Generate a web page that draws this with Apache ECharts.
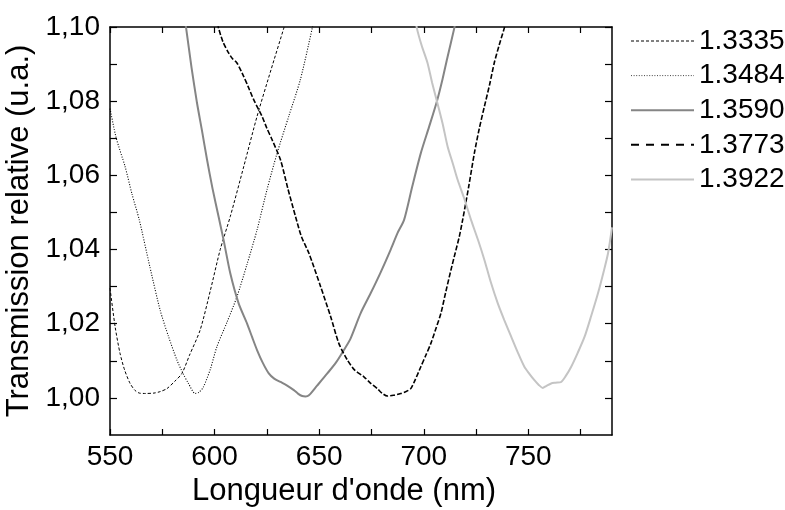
<!DOCTYPE html>
<html>
<head>
<meta charset="utf-8">
<script src="https://cdn.jsdelivr.net/npm/echarts@6/dist/echarts.min.js"></script>
<style>
html,body{margin:0;padding:0;background:#fff;}
#chart{width:785px;height:510px;}
</style>
</head>
<body>
<div id="chart"></div>
<script>
// ---- data (wavelength nm, relative transmission) ----
const seriesNames = ['1.3335', '1.3484', '1.3590', '1.3773', '1.3922'];

const s1335 = [[550,1.0296],[552.5,1.019],[554.8,1.012],[557,1.0075],[559.6,1.0039],[562,1.0020],[564,1.0013],[567,1.0012],[571,1.0013],[574,1.0017],[577.2,1.0025],[581,1.0045],[584.4,1.0066],[588,1.0115],[593.1,1.0183],[598,1.0290],[602.7,1.040],[607.5,1.0489],[614,1.0625],[620.3,1.0759],[627,1.0885],[633.1,1.0997],[634,1.1015]];

const s1484 = [[550,1.078],[553,1.070],[557.2,1.0624],[560.5,1.055],[564,1.048],[569,1.0355],[574,1.0236],[578,1.0165],[582,1.0102],[585,1.0065],[587.5,1.0039],[590.7,1.0012],[592.5,1.0015],[594.7,1.003],[598,1.0078],[601.1,1.0138],[606,1.0205],[610.7,1.0273],[615.5,1.036],[620.3,1.0453],[625,1.056],[629.9,1.066],[635.5,1.076],[641,1.0858],[646.7,1.0997],[647.5,1.102]];

const s1590 = [[585.8,1.102],[586.4,1.0997],[589,1.089],[591.6,1.0795],[594,1.072],[596.4,1.0642],[599,1.0565],[601.9,1.0489],[604.3,1.0426],[607.5,1.0336],[611.5,1.0255],[615.5,1.0201],[618,1.0163],[620.3,1.0129],[623,1.0095],[625.9,1.0066],[628.5,1.0052],[631.5,1.0043],[634.5,1.0034],[637.9,1.0021],[640,1.0011],[641.9,1.0005],[643.5,1.0004],[645.1,1.0007],[649,1.0033],[653.9,1.0066],[658,1.0095],[661.8,1.0129],[665,1.016],[669.8,1.0228],[674.6,1.0282],[679.5,1.034],[684.2,1.040],[687.5,1.0445],[690.6,1.048],[694.5,1.057],[698.6,1.066],[702.5,1.073],[706.3,1.080],[709,1.086],[711.4,1.092],[714.6,1.0997],[715,1.101]];

const s1773 = [[601.5,1.101],[601.9,1.0997],[604,1.096],[606.7,1.093],[608.5,1.0915],[610.7,1.0903],[613.9,1.0867],[616,1.084],[618.7,1.0804],[622.7,1.0759],[625,1.0727],[627.5,1.0696],[631.5,1.0642],[635,1.0565],[638.7,1.0489],[641.5,1.0435],[645.1,1.039],[650.7,1.030],[655.5,1.0219],[659.4,1.0147],[663.5,1.0102],[667,1.0075],[671.4,1.0057],[674.5,1.004],[677.8,1.0025],[680,1.0013],[682.6,1.0005],[685.5,1.0007],[689,1.0012],[691.5,1.0017],[693.8,1.0025],[696,1.0050],[698.6,1.0084],[701,1.0115],[703.4,1.0147],[706,1.019],[708.2,1.0228],[710.5,1.0285],[713,1.0345],[715,1.039],[717,1.0435],[718.6,1.048],[721.5,1.057],[724.2,1.066],[726.5,1.0725],[729,1.0786],[731.5,1.0845],[733.7,1.0903],[736,1.095],[738.5,1.0997],[739,1.101]];

const s1922 = [[696.2,1.102],[696.7,1.0997],[699,1.095],[701.8,1.0903],[704,1.085],[706.3,1.080],[709,1.074],[711.4,1.0678],[714,1.063],[716.2,1.0588],[719.5,1.0535],[722.6,1.048],[726,1.0425],[729,1.0372],[732,1.0313],[735.4,1.0255],[738.5,1.021],[741.8,1.0165],[745,1.0122],[748.1,1.0084],[750.5,1.0065],[752.9,1.0048],[755,1.0035],[756.9,1.0027],[758.5,1.0032],[760.9,1.0039],[763,1.0041],[765.7,1.0043],[768,1.006],[770.5,1.0084],[773.5,1.012],[776.9,1.0165],[780,1.022],[783.3,1.0282],[786,1.034],[788.1,1.039],[790,1.046]];

// ---- axis ticks / labels ----
const xLabels = [550, 600, 650, 700, 750];
const xTicks = [550, 575, 600, 625, 650, 675, 700, 725, 750, 775];
const yLabels = [1.00, 1.02, 1.04, 1.06, 1.08, 1.10];
const yTicks = [1.00, 1.01, 1.02, 1.03, 1.04, 1.05, 1.06, 1.07, 1.08, 1.09, 1.10];

const FONT = '"Liberation Sans", Arial, sans-serif';
const seriesData = [s1335, s1484, s1590, s1773, s1922];
const lineStyles = [
  {color: '#000', width: 1, type: [3, 2]},
  {color: '#000', width: 1.1, type: [1, 1.6]},
  {color: '#858585', width: 2, type: 'solid'},
  {color: '#000', width: 1.6, type: [5, 2]},
  {color: '#c4c4c4', width: 2, type: 'solid'}
];
const legendLineStyles = [
  {color: '#000', width: 1, type: [3, 2]},
  {color: '#444', width: 1, type: [1, 1.6]},
  {color: '#858585', width: 2, type: 'solid'},
  {color: '#000', width: 2, type: [8, 7]},
  {color: '#c4c4c4', width: 2, type: 'solid'}
];

const axisLineStyle = {color: '#000', width: 1.5};
const tickStyle = {color: '#000', width: 1.2};

const chart = echarts.init(document.getElementById('chart'), null, {renderer: 'canvas'});
chart.setOption({
  backgroundColor: '#fff',
  animation: false,
  textStyle: {fontFamily: FONT},
  grid: {left: 110, right: 173, top: 27, bottom: 75, containLabel: false, outerBoundsMode: 'none'},
  legend: {
    orient: 'vertical',
    left: 625,
    top: 22,
    itemWidth: 63,
    itemHeight: 14,
    itemGap: 6.6,
    textStyle: {fontFamily: FONT, fontSize: 28, color: '#000', lineHeight: 28},
    data: seriesNames.map((n, i) => ({
      name: n,
      lineStyle: legendLineStyles[i],
      itemStyle: {opacity: 0, borderWidth: 0}
    }))
  },
  xAxis: [
    {
      type: 'value', min: 550, max: 790, position: 'bottom',
      name: "Longueur d'onde (nm)", nameLocation: 'middle', nameGap: 40,
      nameTextStyle: {fontFamily: FONT, fontSize: 31, color: '#000', padding: [0, 34, 0, 0]},
      axisLine: {show: true, onZero: false, lineStyle: axisLineStyle},
      axisTick: {show: true, inside: true, length: 6, lineStyle: tickStyle, customValues: xTicks},
      axisLabel: {show: true, fontFamily: FONT, fontSize: 28, color: '#000', margin: 8, customValues: xLabels},
      splitLine: {show: false}
    },
    {
      type: 'value', min: 550, max: 790, position: 'top',
      axisLine: {show: true, onZero: false, lineStyle: axisLineStyle},
      axisTick: {show: true, inside: true, length: 6, lineStyle: tickStyle, customValues: xTicks},
      axisLabel: {show: false},
      splitLine: {show: false}
    }
  ],
  yAxis: [
    {
      type: 'value', min: 0.99, max: 1.10, position: 'left',
      name: 'Transmission relative (u.a.)', nameLocation: 'middle', nameGap: 71,
      nameTextStyle: {fontFamily: FONT, fontSize: 31, color: '#000'},
      axisLine: {show: true, onZero: false, lineStyle: axisLineStyle},
      axisTick: {show: true, inside: true, length: 7, lineStyle: tickStyle, customValues: yTicks},
      axisLabel: {
        show: true, fontFamily: FONT, fontSize: 28, color: '#000', margin: 10, customValues: yLabels,
        formatter: v => v.toFixed(2).replace('.', ',')
      },
      splitLine: {show: false}
    },
    {
      type: 'value', min: 0.99, max: 1.10, position: 'right',
      axisLine: {show: true, onZero: false, lineStyle: axisLineStyle},
      axisTick: {show: true, inside: true, length: 7, lineStyle: tickStyle, customValues: yTicks},
      axisLabel: {show: false},
      splitLine: {show: false}
    }
  ],
  series: seriesNames.map((n, i) => ({
    name: n,
    type: 'line',
    xAxisIndex: 0,
    yAxisIndex: 0,
    data: seriesData[i],
    symbol: 'none',
    showSymbol: false,
    smooth: 0.25,
    clip: true,
    lineStyle: lineStyles[i],
    itemStyle: {color: lineStyles[i].color},
    emphasis: {disabled: true}
  }))
});
</script>
</body>
</html>
